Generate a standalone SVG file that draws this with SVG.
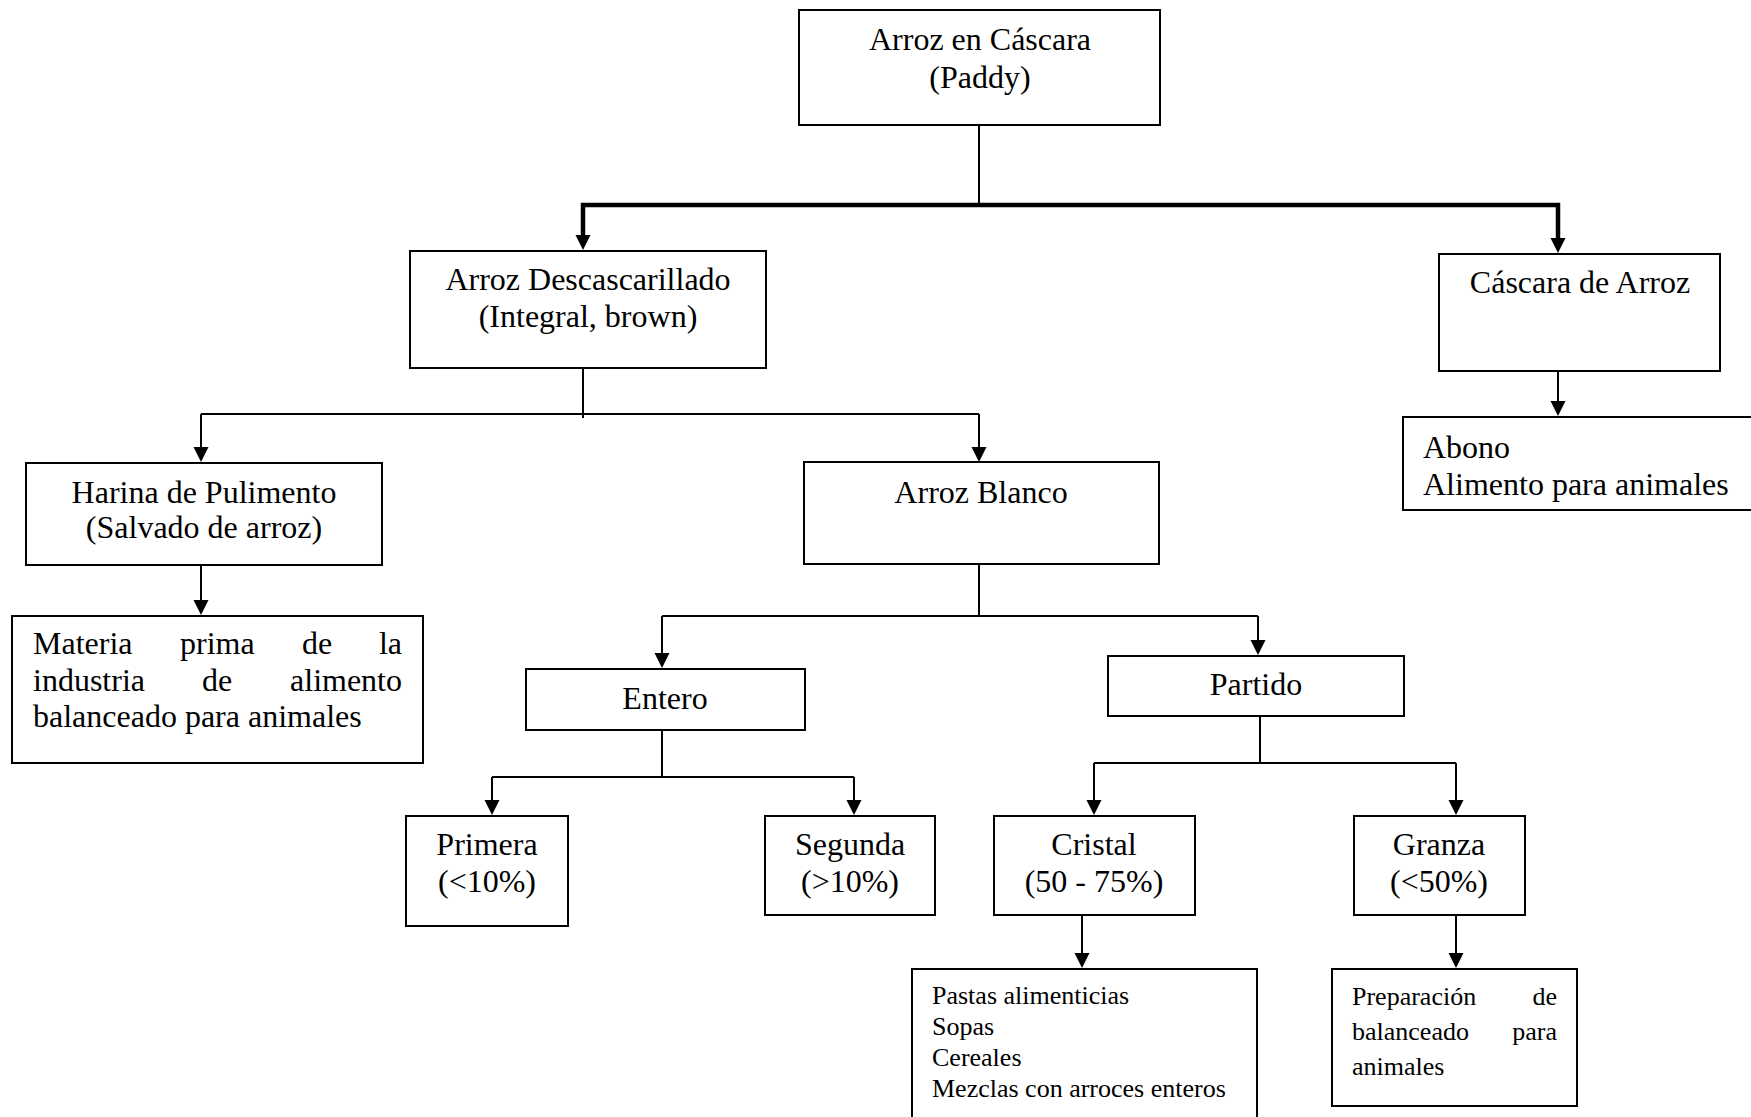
<svg xmlns="http://www.w3.org/2000/svg" width="1751" height="1117" viewBox="0 0 1751 1117">
<style>
  .box { fill: #ffffff; stroke: #000000; stroke-width: 2; }
  .t { font-family: "Liberation Serif", "Times New Roman", serif; font-size: 32px; fill: #000000; }
  .c { text-anchor: middle; }
  .e { text-anchor: end; }
  .s { font-size: 26px; }
  .ln { fill: none; stroke: #000000; stroke-width: 2; }
  .thick { fill: none; stroke: #000000; stroke-width: 4.5; }
  .arr { marker-end: url(#ah); }
</style>
<defs>
  <marker id="ah" markerUnits="userSpaceOnUse" markerWidth="16" markerHeight="16" viewBox="0 0 16 16" refX="5" refY="7.5" orient="auto">
    <path d="M0,0 L15,7.5 L0,15 Z" fill="#000000"/>
  </marker>
</defs>
<rect width="1751" height="1117" fill="#ffffff"/>

<g id="connectors">
  <path class="ln" d="M979,125 V205"/>
  <path class="thick" d="M581,205 H1560"/>
  <path class="thick arr" d="M583,203 V240"/>
  <path class="thick arr" d="M1558,203 V243"/>
  <path class="ln" d="M583,368 V418"/>
  <path class="ln" d="M201,414 H979"/>
  <path class="ln arr" d="M201,414 V452"/>
  <path class="ln arr" d="M979,414 V452"/>
  <path class="ln arr" d="M201,566 V605"/>
  <path class="ln arr" d="M1558,371 V406"/>
  <path class="ln" d="M979,564 V616"/>
  <path class="ln" d="M662,616 H1258"/>
  <path class="ln arr" d="M662,616 V658"/>
  <path class="ln arr" d="M1258,616 V645"/>
  <path class="ln" d="M662,730 V777"/>
  <path class="ln" d="M492,777 H854"/>
  <path class="ln arr" d="M492,777 V805"/>
  <path class="ln arr" d="M854,777 V805"/>
  <path class="ln" d="M1260,712 V763"/>
  <path class="ln" d="M1094,763 H1456"/>
  <path class="ln arr" d="M1094,763 V805"/>
  <path class="ln arr" d="M1456,763 V805"/>
  <path class="ln arr" d="M1082,915 V958"/>
  <path class="ln arr" d="M1456,915 V958"/>
</g>

<g id="n-paddy">
  <rect class="box" x="799" y="10" width="361" height="115"/>
  <text class="t c" x="980" y="50">Arroz en Cáscara</text>
  <text class="t c" x="980" y="88">(Paddy)</text>
</g>

<g id="n-descascarillado">
  <rect class="box" x="410" y="251" width="356" height="117"/>
  <text class="t c" x="588" y="290">Arroz Descascarillado</text>
  <text class="t c" x="588" y="327">(Integral, brown)</text>
</g>

<g id="n-cascara">
  <rect class="box" x="1439" y="254" width="281" height="117"/>
  <text class="t c" x="1580" y="293">Cáscara de Arroz</text>
</g>

<g id="n-abono">
  <rect class="box" x="1403" y="417" width="352" height="93"/>
  <text class="t" x="1423" y="458">Abono</text>
  <text class="t" x="1423" y="495">Alimento para animales</text>
</g>

<g id="n-harina">
  <rect class="box" x="26" y="463" width="356" height="102"/>
  <text class="t c" x="204" y="503">Harina de Pulimento</text>
  <text class="t c" x="204" y="538">(Salvado de arroz)</text>
</g>

<g id="n-materia">
  <rect class="box" x="12" y="616" width="411" height="147"/>
  <text class="t" x="33" y="654">Materia</text>
  <text class="t" x="180" y="654">prima</text>
  <text class="t" x="302" y="654">de</text>
  <text class="t e" x="402" y="654">la</text>
  <text class="t" x="33" y="691">industria</text>
  <text class="t" x="202" y="691">de</text>
  <text class="t e" x="402" y="691">alimento</text>
  <text class="t" x="33" y="727">balanceado para animales</text>
</g>

<g id="n-blanco">
  <rect class="box" x="804" y="462" width="355" height="102"/>
  <text class="t c" x="981" y="503">Arroz Blanco</text>
</g>

<g id="n-entero">
  <rect class="box" x="526" y="669" width="279" height="61"/>
  <text class="t c" x="665" y="709">Entero</text>
</g>

<g id="n-partido">
  <rect class="box" x="1108" y="656" width="296" height="60"/>
  <text class="t c" x="1256" y="695">Partido</text>
</g>

<g id="n-primera">
  <rect class="box" x="406" y="816" width="162" height="110"/>
  <text class="t c" x="487" y="855">Primera</text>
  <text class="t c" x="487" y="892">(&lt;10%)</text>
</g>

<g id="n-segunda">
  <rect class="box" x="765" y="816" width="170" height="99"/>
  <text class="t c" x="850" y="855">Segunda</text>
  <text class="t c" x="850" y="892">(&gt;10%)</text>
</g>

<g id="n-cristal">
  <rect class="box" x="994" y="816" width="201" height="99"/>
  <text class="t c" x="1094" y="855">Cristal</text>
  <text class="t c" x="1094" y="892">(50 - 75%)</text>
</g>

<g id="n-granza">
  <rect class="box" x="1354" y="816" width="171" height="99"/>
  <text class="t c" x="1439" y="855">Granza</text>
  <text class="t c" x="1439" y="892">(&lt;50%)</text>
</g>

<g id="n-pastas">
  <rect class="box" x="912" y="969" width="345" height="160"/>
  <text class="t s" x="932" y="1004">Pastas alimenticias</text>
  <text class="t s" x="932" y="1035">Sopas</text>
  <text class="t s" x="932" y="1066">Cereales</text>
  <text class="t s" x="932" y="1097">Mezclas con arroces enteros</text>
</g>

<g id="n-preparacion">
  <rect class="box" x="1332" y="969" width="245" height="137"/>
  <text class="t s" x="1352" y="1005">Preparación</text>
  <text class="t s e" x="1557" y="1005">de</text>
  <text class="t s" x="1352" y="1040">balanceado</text>
  <text class="t s e" x="1557" y="1040">para</text>
  <text class="t s" x="1352" y="1075">animales</text>
</g>
</svg>
